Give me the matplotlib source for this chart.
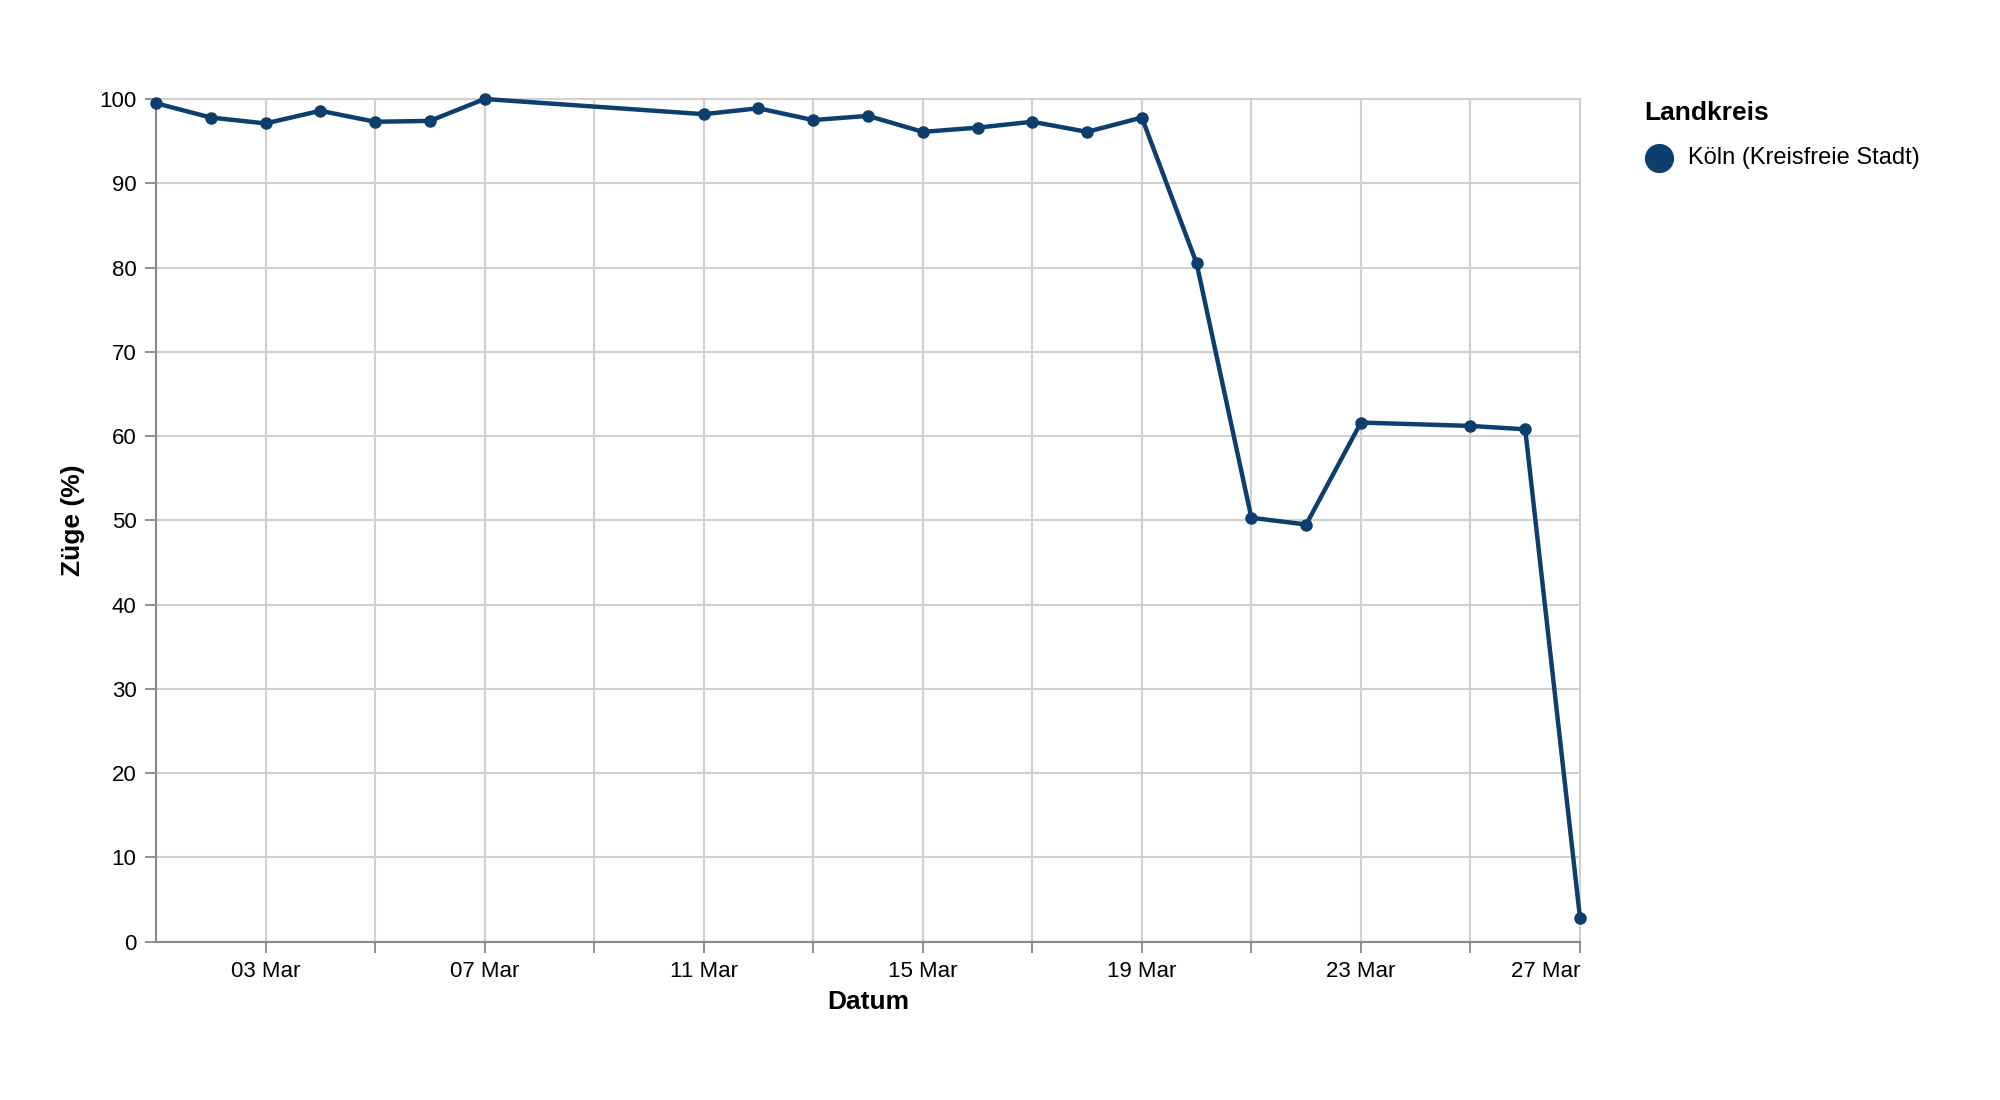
import matplotlib
matplotlib.use("Agg")
import matplotlib.pyplot as plt
import matplotlib.dates as mdates
import numpy as np
from datetime import date

plt.rcParams['font.family'] = ['Liberation Sans', 'DejaVu Sans']

days = [1,2,3,4,5,6,7,11,12,13,14,15,16,17,18,19,20,21,22,23,25,26,27]
values = [99.5,97.8,97.1,98.6,97.3,97.4,100.0,98.2,98.9,97.5,98.0,96.1,96.6,97.3,96.1,97.8,80.5,50.3,49.5,61.6,61.2,60.8,2.8]
series_name = "Köln (Kreisfreie Stadt)"
dates = [date(2020,3,d) for d in days]
color = "#0d3f6e"

fig = plt.figure(figsize=(20,11), dpi=100)
ax = fig.add_axes([0.078, 0.144, 0.712, 0.766])
ax.plot(dates, values, color=color, lw=3.2, marker='o', ms=8, zorder=3, clip_on=False)
ax.set_xlim(date(2020,3,1), date(2020,3,27))
ax.set_ylim(0, 100)
ax.set_yticks(range(0,101,10))
tick_days = list(range(3,28,2))
ax.set_xticks([date(2020,3,d) for d in tick_days])
ax.set_xticklabels([f"{d:02d} Mar" if (d-3)%4==0 else "" for d in tick_days])
ax.get_xticklabels()[-1].set_horizontalalignment('right')
ax.grid(True, color="#d0d0d0", lw=1.5)
ax.set_axisbelow(True)
for s in ['top','right']:
    ax.spines[s].set_color("#d0d0d0"); ax.spines[s].set_linewidth(1.5)
for s in ['left','bottom']:
    ax.spines[s].set_color("#888888"); ax.spines[s].set_linewidth(1.5)
ax.tick_params(length=8, width=1.3, color="#888888", labelsize=16, pad=6)
ax.set_xlabel("Datum", fontsize=19, fontweight='bold', labelpad=6)
ax.set_ylabel("Züge (%)", fontsize=19, fontweight='bold', labelpad=10)

fig.text(0.822, 0.897, "Landkreis", fontsize=19, fontweight='bold', va='center')
fig.text(0.844, 0.856, series_name, fontsize=17, va='center')
fig.add_artist(plt.Line2D([0.8295],[0.856], marker='o', ms=20, color=color, transform=fig.transFigure))
fig.savefig("out.png", dpi=100, facecolor='white')
